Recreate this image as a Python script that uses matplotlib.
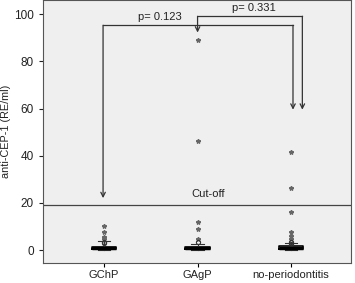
import matplotlib
matplotlib.use("Agg")
import matplotlib.pyplot as plt

plt.rcParams['font.family'] = ['Liberation Sans', 'DejaVu Sans']

groups = ["GChP", "GAgP", "no-periodontitis"]

# box stats (RE/ml)
q1 = [0.6, 0.6, 0.6]
med = [1.0, 1.0, 1.0]
q3 = [1.4, 1.3, 1.5]
whislo = [0.2, 0.2, 0.2]
whishi = [4.0, 2.5, 3.0]

# extreme values (stars) and outliers (circles)
stars = [
    [10.2, 7.7, 5.5, 4.6],
    [89.0, 46.4, 11.9, 8.9, 4.7],
    [41.7, 26.4, 16.2, 7.7, 6.0, 4.8],
]
circles = [
    [3.6, 2.9],
    [3.2],
    [3.4, 2.6],
]

cutoff = 19.1
p_labels = ["p= 0.123", "p= 0.331"]

fig = plt.figure(figsize=(3.55, 2.83), dpi=100)
ax = fig.add_axes([43 / 355, 20 / 283, 308 / 355, 263 / 283])
ax.set_facecolor("#efefef")

line_c = "#333333"

stats = []
for i in range(3):
    stats.append({
        "med": med[i], "q1": q1[i], "q3": q3[i],
        "whislo": whislo[i], "whishi": whishi[i], "fliers": [],
    })
ax.bxp(stats, positions=[1, 2, 3], widths=0.26, showfliers=False,
       boxprops=dict(color="black", linewidth=1.2),
       medianprops=dict(color="black", linewidth=2.5),
       whiskerprops=dict(color=line_c, linewidth=0.8),
       capprops=dict(color=line_c, linewidth=0.8))

for i in range(3):
    ax.plot([i + 1] * len(stars[i]), stars[i], linestyle="none", marker="*",
            markersize=3.2, color="#666666")
    ax.plot([i + 1] * len(circles[i]), circles[i], linestyle="none", marker="o",
            markersize=3, markerfacecolor="none", markeredgecolor="#333333",
            markeredgewidth=0.8)

# cut-off line
ax.axhline(cutoff, color="#444444", linewidth=0.9)
ax.text(2.11, cutoff + 2.5, "Cut-off", fontsize=8, color="#222222", ha="center",
        va="bottom")

# comparison brackets
arrow_kw = dict(arrowstyle="->", color=line_c, lw=0.9, mutation_scale=8,
                shrinkA=0, shrinkB=0)

ax.plot([0.99, 3.02], [95.3, 95.3], color=line_c, lw=0.9)
ax.annotate("", xy=(0.99, 22.0), xytext=(0.99, 95.3), arrowprops=arrow_kw)
ax.annotate("", xy=(3.02, 59.5), xytext=(3.02, 95.3), arrowprops=arrow_kw)
ax.text(1.6, 96.8, p_labels[0], fontsize=8, color="#222222", ha="center",
        va="bottom")

ax.plot([2.0, 3.12], [99.1, 99.1], color=line_c, lw=0.9)
ax.annotate("", xy=(2.0, 92.2), xytext=(2.0, 99.1), arrowprops=arrow_kw)
ax.annotate("", xy=(3.12, 59.5), xytext=(3.12, 99.1), arrowprops=arrow_kw)
ax.text(2.6, 100.6, p_labels[1], fontsize=8, color="#222222", ha="center",
        va="bottom")

ax.set_xlim(0.348, 3.64)
ax.set_ylim(-5.5, 106)
ax.set_xticks([1, 2, 3])
ax.set_xticklabels(groups, fontsize=8, color="#222222")
ax.set_yticks([0, 20, 40, 60, 80, 100])
ax.tick_params(axis="y", labelsize=8.5, colors="#222222", length=3)
ax.tick_params(axis="x", length=3, pad=2)
ax.set_ylabel("anti-CEP-1 (RE/ml)", fontsize=7.8, color="#222222", labelpad=2)

for s in ax.spines.values():
    s.set_color("#555555")
    s.set_linewidth(0.8)

fig.savefig("out.png", dpi=100)
